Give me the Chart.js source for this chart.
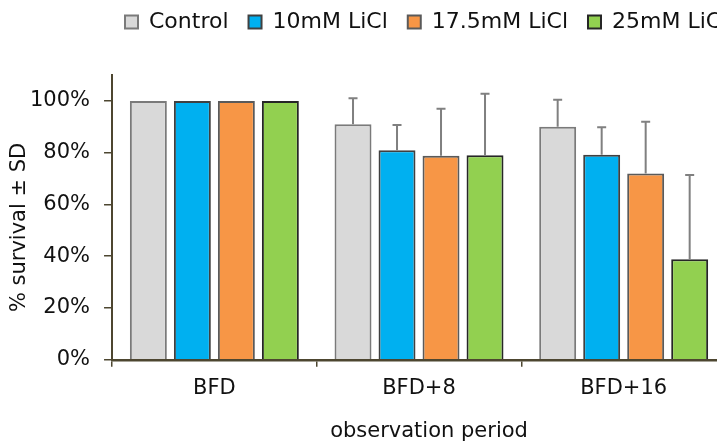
<!DOCTYPE html>
<html><head><meta charset="utf-8">
<script src="https://cdn.jsdelivr.net/npm/chart.js@4.4.1/dist/chart.umd.min.js"></script>
<style>
html,body{margin:0;padding:0;overflow:hidden;background:#fff;width:717px;height:442px;}
#wrap{width:760px;height:442px;}
canvas{display:block;}
</style></head><body>
<div id="wrap"><canvas id="c" width="760" height="442"></canvas></div>
<script>
// ---- data ----
const categories = ['BFD', 'BFD+8', 'BFD+16'];
const seriesNames = ['Control', '10mM LiCl', '17.5mM LiCl', '25mM LiCl'];
const controlVals = [100, 91.0, 90.0];
const licl10Vals  = [100, 80.9, 79.2];
const licl175Vals = [100, 78.8, 72.0];
const licl25Vals  = [100, 79.0, 38.8];
const controlSD = [0, 10.0, 10.4];
const licl10SD  = [0, 9.8, 10.6];
const licl175SD = [0, 18.2, 19.9];
const licl25SD  = [0, 23.8, 32.6];
const yTickValues = [0, 20, 40, 60, 80, 100];
const yTitle = '% survival \u00b1 SD';
const xTitle = 'observation period';

// ---- styles ----
const fills   = ['#D9D9D9', '#00B0F0', '#F79646', '#92D050'];
const borders = ['#7a7a7a', '#404040', '#5a5a5a', '#262626'];
const axisColor = '#4d4630';
const FONT = 'DejaVu Sans';
Chart.defaults.font.family = FONT;
Chart.defaults.color = '#111';

const valueSets = [controlVals, licl10Vals, licl175Vals, licl25Vals];
const sdSets = [controlSD, licl10SD, licl175SD, licl25SD];

const datasets = seriesNames.map((name, i) => ({
  label: name,
  data: valueSets[i],
  sd: sdSets[i],
  backgroundColor: fills[i],
  borderColor: borders[i],
  borderWidth: 2,
  borderSkipped: 'start',
  categoryPercentage: 0.86,
  barPercentage: 0.84
}));

const errorBars = {
  id: 'errorBars',
  afterDatasetsDraw(chart) {
    const ctx = chart.ctx;
    const y = chart.scales.y;
    ctx.save();
    ctx.strokeStyle = '#808080';
    ctx.lineWidth = 2;
    chart.data.datasets.forEach((ds, di) => {
      const meta = chart.getDatasetMeta(di);
      meta.data.forEach((bar, j) => {
        const sd = ds.sd[j];
        if (!sd) return;
        const top = y.getPixelForValue(ds.data[j] + sd);
        const base = bar.y;
        ctx.beginPath();
        ctx.moveTo(bar.x, base);
        ctx.lineTo(bar.x, top);
        ctx.moveTo(bar.x - 4.5, top);
        ctx.lineTo(bar.x + 4.5, top);
        ctx.stroke();
      });
    });
    ctx.restore();
  }
};

const LEG_X = 125, LEG_ROW_TOP = 11;
const legendPlace = {
  id: 'legendPlace',
  afterLayout(chart) {
    const l = chart.legend;
    const pad = l.options.labels.padding;
    l.left = LEG_X - pad;
    l.right = l.left + 2000;
    l.top = LEG_ROW_TOP - pad;
    l.bottom = l.top + l.height + 40;
  }
};

new Chart(document.getElementById('c'), {
  type: 'bar',
  data: { labels: categories, datasets },
  plugins: [errorBars, legendPlace],
  options: {
    responsive: false,
    animation: false,
    devicePixelRatio: 1,
    layout: { padding: { top: 23, right: 34, left: 0, bottom: 0 } },
    plugins: {
      tooltip: { enabled: false },
      legend: {
        position: 'top',
        align: 'start',
        labels: {
          boxWidth: 13, boxHeight: 13, padding: 20,
          font: { size: 22, family: FONT }, color: '#111'
        }
      }
    },
    scales: {
      x: {
        z: 1,
        border: { display: true, color: axisColor, width: 2.5 },
        grid: { display: true, drawOnChartArea: false, drawTicks: true, tickLength: 7, color: axisColor, lineWidth: 1.5, offset: true },
        ticks: { font: { size: 21, family: FONT }, color: '#111', padding: 9 },
        title: { display: true, text: '   ' + xTitle, font: { size: 21, family: FONT, lineHeight: 1.0 }, color: '#111', padding: { top: 11, bottom: 0 } }
      },
      y: {
        min: 0, max: 110,
        afterBuildTicks: s => { s.ticks = yTickValues.map(v => ({ value: v })); },
        border: { display: true, color: axisColor, width: 2 },
        grid: { display: true, drawOnChartArea: false, drawTicks: true, tickLength: 8, color: axisColor, lineWidth: 1.5 },
        ticks: { font: { size: 21, family: FONT }, color: '#111', padding: 14, callback: v => v + '%' },
        title: { display: true, text: yTitle + '   ', font: { size: 21, family: FONT, lineHeight: 1.0 }, color: '#111', padding: { top: 9, bottom: -14 } }
      }
    }
  }
});
</script>
</body></html>
